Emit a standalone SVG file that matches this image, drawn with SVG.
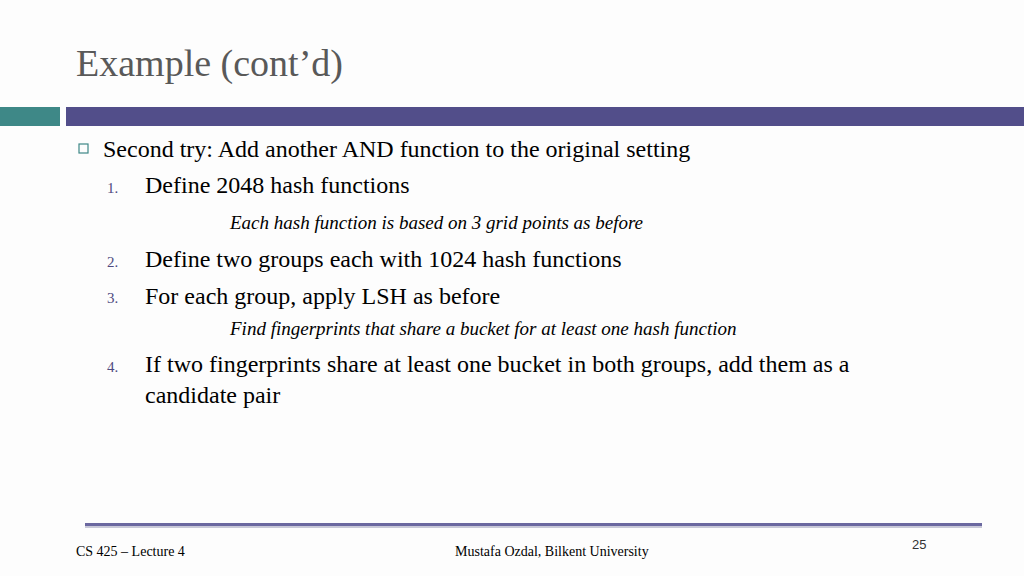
<svg xmlns="http://www.w3.org/2000/svg" width="1024" height="576" viewBox="0 0 1024 576">
<style>
.t{font-family:"Liberation Serif",serif;fill:#000}
.b{font-size:24px}
.i{font-size:19px;font-style:italic}
.n{font-size:15px;fill:#4f4a80}
.f{font-size:14px}
</style>
<rect width="1024" height="576" fill="#fdfdfd"/>
<text class="t" x="76" y="76" font-size="38" fill="#595959" style="fill:#595959">Example (cont’d)</text>
<rect x="0" y="107" width="60" height="19" fill="#3e8887"/>
<rect x="66" y="107" width="958" height="19" fill="#524e8a"/>
<rect x="79" y="144" width="9" height="9" fill="none" stroke="#3e8887" stroke-width="1.2"/>
<text class="t b" x="103" y="157">Second try: Add another AND function to the original setting</text>
<text class="t n" x="107" y="193">1.</text>
<text class="t b" x="145" y="193">Define 2048 hash functions</text>
<text class="t i" x="230" y="229">Each hash function is based on 3 grid points as before</text>
<text class="t n" x="107" y="267">2.</text>
<text class="t b" x="145" y="267">Define two groups each with 1024 hash functions</text>
<text class="t n" x="107" y="303">3.</text>
<text class="t b" x="145" y="304">For each group, apply LSH as before</text>
<text class="t i" x="230" y="335">Find fingerprints that share a bucket for at least one hash function</text>
<text class="t n" x="107" y="372">4.</text>
<text class="t b" x="145" y="372">If two fingerprints share at least one bucket in both groups, add them as a</text>
<text class="t b" x="145" y="403">candidate pair</text>
<rect x="85" y="523" width="897" height="3" fill="#6b68a0"/>
<rect x="85" y="526" width="897" height="2" fill="#c8c8d8"/>
<text class="t f" x="76" y="556">CS 425 – Lecture 4</text>
<text class="t f" x="455" y="556">Mustafa Ozdal, Bilkent University</text>
<text x="912" y="549" font-family="Liberation Sans,sans-serif" font-size="13" fill="#333">25</text>
</svg>
